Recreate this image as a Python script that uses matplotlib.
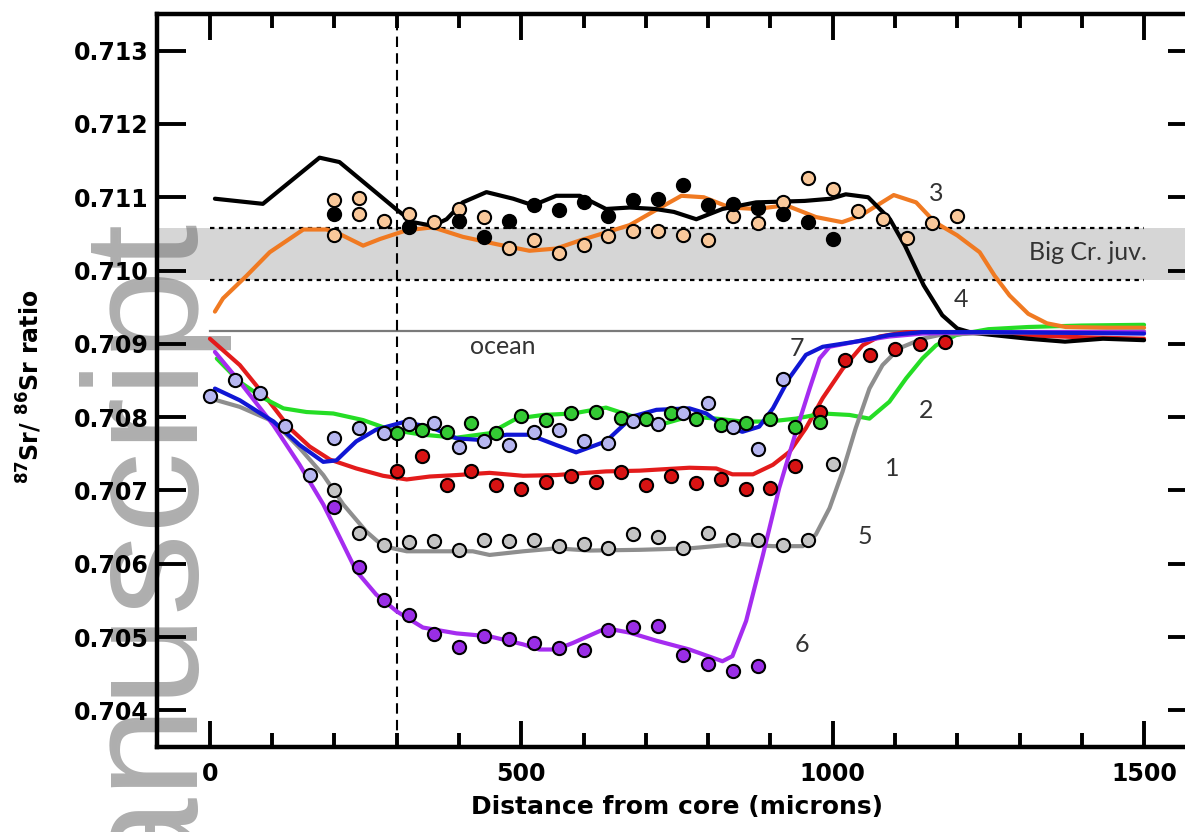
import matplotlib
matplotlib.use("Agg")
import matplotlib.pyplot as plt
from matplotlib.ticker import MultipleLocator, FixedLocator, FormatStrFormatter

# ---------------- data ----------------
# Series 1 (red)
s1_pt_x = [300, 340, 380, 420, 460, 500, 540, 580, 620, 660, 700, 740, 780, 820, 860, 900, 940, 980, 1020, 1060, 1100, 1140, 1180]
s1_pt_y = [0.70726, 0.70747, 0.70707, 0.70727, 0.70707, 0.70702, 0.70711, 0.70720, 0.70712, 0.70725, 0.70707, 0.70720, 0.70710,
           0.70716, 0.70702, 0.70703, 0.70733, 0.70807, 0.70878, 0.70885, 0.70893, 0.70900, 0.70902]
s1_ln_x = [0, 48, 91, 128, 160, 193, 235, 278, 316, 353, 396, 449, 503, 556, 636, 690, 770, 813, 839, 872, 904, 931, 957, 984,
           1016, 1048, 1075, 1118, 1200, 1300, 1400, 1500]
s1_ln_y = [0.70907, 0.70871, 0.70826, 0.70785, 0.70760, 0.70742, 0.70730, 0.70720, 0.70715, 0.70719, 0.70721, 0.70724, 0.70720,
           0.70721, 0.70726, 0.70727, 0.70731, 0.70730, 0.70722, 0.70722, 0.70735, 0.70753, 0.70785, 0.70826, 0.70866, 0.70898,
           0.70910, 0.70916, 0.70916, 0.70912, 0.70909, 0.70907]

# Series 2 (green)
s2_pt_x = [300, 340, 380, 420, 460, 500, 540, 580, 620, 660, 700, 740, 780, 820, 860, 900, 940, 980]
s2_pt_y = [0.70778, 0.70783, 0.70780, 0.70792, 0.70779, 0.70801, 0.70796, 0.70806, 0.70807, 0.70799, 0.70797, 0.70805, 0.70798,
           0.70789, 0.70792, 0.70798, 0.70786, 0.70794]
s2_ln_x = [11, 48, 86, 118, 155, 198, 246, 289, 342, 396, 449, 492, 535, 583, 636, 690, 733, 770, 813, 855, 898, 941, 984,
           1027, 1059, 1091, 1118, 1144, 1166, 1198, 1250, 1314, 1400, 1500]
s2_ln_y = [0.70880, 0.70848, 0.70826, 0.70812, 0.70807, 0.70805, 0.70796, 0.70783, 0.70776, 0.70772, 0.70778, 0.70798, 0.70803,
           0.70805, 0.70813, 0.70798, 0.70792, 0.70801, 0.70798, 0.70794, 0.70794, 0.70798, 0.70805, 0.70803, 0.70798, 0.70821,
           0.70853, 0.70880, 0.70898, 0.70912, 0.70920, 0.70923, 0.70925, 0.70926]

# Series 3 (orange)
s3_pt_x = [200, 200, 240, 240, 280, 320, 360, 400, 440, 480, 520, 560, 600, 640, 680, 720, 760, 800, 840, 880, 920, 960, 1000,
           1040, 1080, 1120, 1160, 1200]
s3_pt_y = [0.71096, 0.71049, 0.71099, 0.71077, 0.71067, 0.71077, 0.71066, 0.71084, 0.71073, 0.71031, 0.71041, 0.71024, 0.71035,
           0.71047, 0.71054, 0.71054, 0.71049, 0.71042, 0.71075, 0.71065, 0.71093, 0.71126, 0.71111, 0.71081, 0.71071, 0.71044,
           0.71065, 0.71075]
s3_ln_x = [8, 21, 59, 96, 150, 187, 208, 246, 273, 316, 358, 406, 460, 513, 556, 594, 636, 674, 715, 757, 793, 835, 877, 925,
           973, 1015, 1045, 1098, 1134, 1164, 1200, 1236, 1260, 1284, 1314, 1344, 1374, 1440, 1500]
s3_ln_y = [0.70944, 0.70962, 0.70993, 0.71025, 0.71056, 0.71056, 0.71050, 0.71034, 0.71043, 0.71055, 0.71059, 0.71046, 0.71036,
           0.71027, 0.71030, 0.71041, 0.71052, 0.71062, 0.71082, 0.71102, 0.71100, 0.71086, 0.71084, 0.71089, 0.71073, 0.71066,
           0.71075, 0.71103, 0.71093, 0.71066, 0.71048, 0.71025, 0.70993, 0.70966, 0.70941, 0.70928, 0.70923, 0.70922, 0.70922]

# Series 4 (black)
s4_pt_x = [200, 320, 400, 440, 480, 520, 560, 600, 640, 680, 720, 760, 800, 840, 880, 920, 960, 1000]
s4_pt_y = [0.71077, 0.71059, 0.71068, 0.71046, 0.71067, 0.71089, 0.71082, 0.71094, 0.71075, 0.71096, 0.71098, 0.71117, 0.71089,
           0.71091, 0.71086, 0.71077, 0.71066, 0.71043]
s4_ln_x = [8, 85, 176, 208, 300, 326, 358, 380, 406, 444, 487, 519, 556, 594, 636, 674, 715, 745, 781, 823, 877, 955, 997, 1021,
           1057, 1092, 1116, 1146, 1176, 1200, 1224, 1314, 1373, 1434, 1500]
s4_ln_y = [0.71098, 0.71091, 0.71154, 0.71148, 0.71083, 0.71066, 0.71061, 0.71070, 0.71093, 0.71107, 0.71098, 0.71089, 0.71102,
           0.71102, 0.71084, 0.71086, 0.71084, 0.71080, 0.71070, 0.71084, 0.71093, 0.71095, 0.71098, 0.71104, 0.71100, 0.71070,
           0.71034, 0.70980, 0.70939, 0.70921, 0.70915, 0.70907, 0.70903, 0.70907, 0.70905]

# Series 5 (gray)
s5_pt_x = [200, 240, 280, 320, 360, 400, 440, 480, 520, 560, 600, 640, 680, 720, 760, 800, 840, 880, 920, 960, 1000]
s5_pt_y = [0.70700, 0.70642, 0.70625, 0.70629, 0.70631, 0.70619, 0.70632, 0.70631, 0.70633, 0.70624, 0.70627, 0.70622, 0.70641,
           0.70637, 0.70621, 0.70642, 0.70633, 0.70633, 0.70626, 0.70633, 0.70736]
s5_ln_x = [11, 48, 102, 144, 182, 214, 251, 278, 316, 369, 422, 449, 503, 556, 610, 690, 770, 850, 904, 952, 973, 995, 1016,
           1037, 1059, 1080, 1107, 1144, 1171, 1250, 1350, 1500]
s5_ln_y = [0.70823, 0.70814, 0.70794, 0.70758, 0.70721, 0.70681, 0.70644, 0.70624, 0.70617, 0.70617, 0.70617, 0.70612, 0.70617,
           0.70621, 0.70618, 0.70619, 0.70621, 0.70627, 0.70624, 0.70624, 0.70640, 0.70676, 0.70726, 0.70785, 0.70839, 0.70871,
           0.70894, 0.70907, 0.70912, 0.70915, 0.70916, 0.70917]

# Series 6 (purple)
s6_pt_x = [200, 240, 280, 320, 360, 400, 440, 480, 520, 560, 600, 640, 680, 720, 760, 800, 840, 880]
s6_pt_y = [0.70677, 0.70595, 0.70550, 0.70530, 0.70504, 0.70486, 0.70501, 0.70497, 0.70492, 0.70485, 0.70482, 0.70509, 0.70514,
           0.70515, 0.70475, 0.70463, 0.70454, 0.70460]
s6_ln_x = [8, 48, 102, 144, 182, 209, 235, 267, 300, 342, 396, 449, 503, 529, 556, 583, 636, 674, 717, 770, 823, 839, 861, 888,
           914, 941, 963, 979, 995, 1037, 1091, 1144, 1250, 1500]
s6_ln_y = [0.70889, 0.70848, 0.70789, 0.70735, 0.70681, 0.70635, 0.70590, 0.70558, 0.70535, 0.70513, 0.70505, 0.70501, 0.70490,
           0.70483, 0.70483, 0.70492, 0.70512, 0.70506, 0.70495, 0.70483, 0.70467, 0.70474, 0.70522, 0.70612, 0.70703, 0.70780,
           0.70839, 0.70880, 0.70896, 0.70903, 0.70910, 0.70914, 0.70916, 0.70916]

# Series 7 (blue)
s7_pt_x = [0, 40, 80, 120, 160, 200, 240, 280, 320, 360, 400, 440, 480, 520, 560, 600, 640, 680, 720, 760, 800, 840, 880, 920]
s7_pt_y = [0.70829, 0.70851, 0.70833, 0.70788, 0.70721, 0.70772, 0.70785, 0.70778, 0.70790, 0.70792, 0.70759, 0.70768, 0.70762,
           0.70780, 0.70783, 0.70767, 0.70765, 0.70795, 0.70790, 0.70806, 0.70819, 0.70786, 0.70756, 0.70852]
s7_ln_x = [8, 48, 102, 144, 182, 203, 235, 267, 310, 353, 396, 433, 476, 513, 556, 588, 636, 679, 717, 770, 797, 823, 855, 882,
           904, 930, 957, 984, 1037, 1091, 1144, 1250, 1500]
s7_ln_y = [0.70839, 0.70823, 0.70794, 0.70762, 0.70739, 0.70741, 0.70767, 0.70783, 0.70793, 0.70787, 0.70771, 0.70769, 0.70776,
           0.70776, 0.70762, 0.70752, 0.70767, 0.70801, 0.70810, 0.70812, 0.70805, 0.70789, 0.70780, 0.70787, 0.70812, 0.70853,
           0.70885, 0.70896, 0.70903, 0.70912, 0.70916, 0.70916, 0.70914]

# Reference features
ocean_value = 0.70918
juv_low = 0.70987
juv_high = 0.71058
core_line_x = 300
ref_x_range = [0, 1500]

# Series labels
series_names = ["1", "2", "3", "4", "5", "6", "7"]
label_x = [1096, 1150, 1166, 1206, 1051, 951, 942]
label_y = [0.70730, 0.70809, 0.71105, 0.70960, 0.70637, 0.70490, 0.70893]

x_ticks = [0, 500, 1000, 1500]
y_ticks = [0.704, 0.705, 0.706, 0.707, 0.708, 0.709, 0.710, 0.711, 0.712, 0.713]

# ---------------- styling ----------------
line_colors = ["#e31b1b", "#25dd25", "#f07a22", "#000000", "#8e8e8e", "#a52cf0", "#1016d4"]
point_colors = ["#d81313", "#34c934", "#f9c89a", "#000000", "#c4c4c4", "#9a2ee6", "#b6b6f0"]

fig = plt.figure(figsize=(11.85, 8.32), dpi=100)
ax = fig.add_axes([157 / 1185, 1 - 747 / 832, 1040 / 1185, (747 - 14) / 832])
ax.set_xlim(-85, 1585)
ax.set_ylim(0.7035, 0.7135)

# band and reference lines
ax.axhspan(juv_low, juv_high, color="#d6d6d6", lw=0, zorder=0.5)
ax.plot(ref_x_range, [juv_high, juv_high], color="black", lw=1.6, ls=(0, (2, 2)), zorder=0.9)
ax.plot(ref_x_range, [juv_low, juv_low], color="black", lw=1.6, ls=(0, (2, 2)), zorder=0.9)
ax.plot(ref_x_range, [ocean_value, ocean_value], color="#7a7a7a", lw=1.6, zorder=0.9)
ax.axvline(core_line_x, color="black", lw=1.5, ls=(0, (5, 3)), zorder=0.9)

# watermark
ax.text(187 / 1185, 1 - 212 / 832, "manuscript", transform=fig.transFigure, rotation=90,
        rotation_mode="anchor", ha="right", va="baseline", fontsize=118,
        family="Liberation Sans", color=(0.45, 0.45, 0.45), alpha=0.58, zorder=1.2, clip_on=False)

lines = [(s1_ln_x, s1_ln_y), (s2_ln_x, s2_ln_y), (s3_ln_x, s3_ln_y), (s4_ln_x, s4_ln_y),
         (s5_ln_x, s5_ln_y), (s6_ln_x, s6_ln_y), (s7_ln_x, s7_ln_y)]
points = [(s1_pt_x, s1_pt_y), (s2_pt_x, s2_pt_y), (s3_pt_x, s3_pt_y), (s4_pt_x, s4_pt_y),
          (s5_pt_x, s5_pt_y), (s6_pt_x, s6_pt_y), (s7_pt_x, s7_pt_y)]

for (lx, ly), c in zip(lines, line_colors):
    ax.plot(lx, ly, color=c, lw=3.0, solid_joinstyle="round", solid_capstyle="round", zorder=2.2)
for (px, py), c in zip(points, point_colors):
    ax.plot(px, py, ls="none", marker="o", ms=9.5, mfc=c, mec="black", mew=1.5, zorder=2.8)

# text labels
ann_font = "Lato"
for name, tx, ty in zip(series_names, label_x, label_y):
    ax.text(tx, ty, name, ha="center", va="center", fontsize=18, family=ann_font, color="#333333", zorder=4)
ax.text(470, 0.70896, "ocean", ha="center", va="center", fontsize=18, family=ann_font, color="#333333", zorder=4)
ax.text(1410, 0.71024, "Big Cr. juv.", ha="center", va="center", fontsize=18, family=ann_font, color="#333333", zorder=4)

# axes styling
for side in ["left", "right", "top", "bottom"]:
    ax.spines[side].set_linewidth(3.2)
ax.xaxis.set_major_locator(FixedLocator(x_ticks))
ax.xaxis.set_minor_locator(MultipleLocator(100))
ax.yaxis.set_major_locator(FixedLocator(y_ticks))
ax.yaxis.set_major_formatter(FormatStrFormatter("%.3f"))
ax.tick_params(axis="x", which="major", direction="in", length=19, width=2.8, top=True, pad=11)
ax.tick_params(axis="x", which="minor", direction="in", length=10, width=2.8, top=True)
ax.tick_params(axis="y", which="major", direction="in", length=21, width=2.8, right=True, pad=6)
ax.tick_params(axis="y", which="minor", left=False, right=False)
for lab in ax.get_xticklabels() + ax.get_yticklabels():
    lab.set_fontfamily("DejaVu Sans")
    lab.set_fontweight("bold")
    lab.set_fontsize(17)

ax.set_xlabel("Distance from core (microns)", fontsize=18, fontweight="bold", family="DejaVu Sans", labelpad=6)
fig.text(30 / 1185, 1 - 387 / 832, r"$\mathbf{^{87}}$Sr/ $\mathbf{^{86}}$Sr ratio", rotation=90,
         ha="center", va="center", fontsize=17, fontweight="bold", family="DejaVu Sans")

fig.savefig("out.png", dpi=100)
